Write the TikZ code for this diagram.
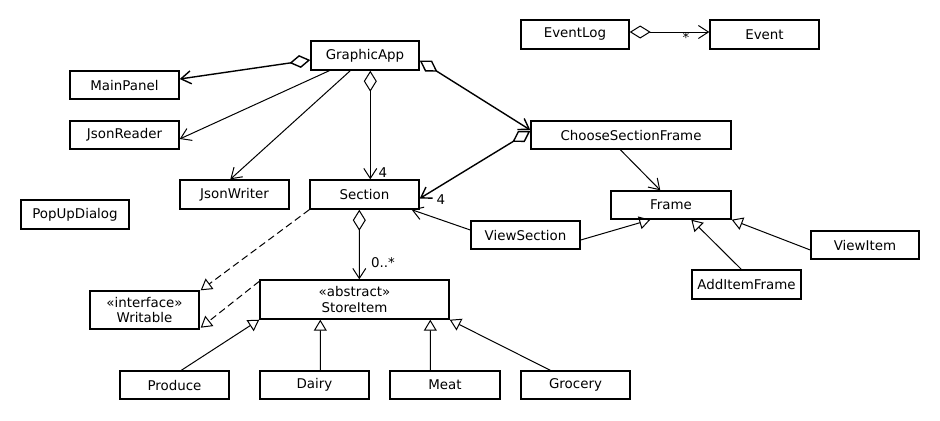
\documentclass[tikz,border=0pt]{standalone}
\usepackage{fontspec}
\newfontfamily\umlfont{DejaVu Sans}
\usetikzlibrary{arrows.meta,calc}
\tikzset{
  cls/.style={draw, line width=1.4bp, inner sep=0pt, minimum height=28bp,
    font=\umlfont\fontsize{13.4bp}{15.5bp}\selectfont, align=center},
  lbl/.style={font=\umlfont\fontsize{13.4bp}{15bp}\selectfont, inner sep=0pt},
  assoc/.style={line width=1bp, -{Straight Barb[length=10bp,width=13bp]}},
  aggr/.style={line width=1bp, {Diamond[open,length=21bp,width=13bp]}-{Straight Barb[length=10bp,width=13bp]}},
  thick/.style={line width=1.4bp},
  inherit/.style={line width=1bp, -{Triangle[open,length=11bp,width=13bp]}},
  realize/.style={inherit, dash pattern=on 7bp off 4bp},
}
\begin{document}
\begin{tikzpicture}[x=1bp,y=-1bp]
\fill[white] (0,0) rectangle (940,420);
\useasboundingbox (0,0) rectangle (940,420);

% classes
\node[cls, minimum width=108bp, minimum height=29bp] (ga) at (365,55.5) {GraphicApp};
\node[cls, minimum width=109bp] (mp) at (124.5,85) {MainPanel};
\node[cls, minimum width=109bp] (jr) at (124.5,135) {JsonReader};
\node[cls, minimum width=109bp, minimum height=29bp] (jw) at (234.5,194.5) {JsonWriter};
\node[cls, minimum width=109bp, minimum height=29bp] (sec) at (364.5,194.5) {Section};
\node[cls, minimum width=108bp, minimum height=29bp] (pud) at (75,214.5) {PopUpDialog};
\node[cls, minimum width=108bp, minimum height=29bp] (el) at (575,34.5) {EventLog};
\node[cls, minimum width=109bp, minimum height=29bp] (ev) at (764.5,34.5) {Event};
\node[cls, minimum width=200bp] (csf) at (631,135) {ChooseSectionFrame};
\node[cls, minimum width=120bp] (fr) at (671,205) {Frame};
\node[cls, minimum width=109bp] (vs) at (525.5,235) {ViewSection};
\node[cls, minimum width=108bp] (vi) at (865,245) {ViewItem};
\node[cls, minimum width=109bp, minimum height=29bp] (aif) at (746.5,284.5) {AddItemFrame};
\node[cls, minimum width=109bp, minimum height=38bp] (wr) at (144.5,310) {«interface»\\Writable};
\node[cls, minimum width=189bp, minimum height=39bp] (si) at (354.5,299.5) {«abstract»\\StoreItem};
\node[cls, minimum width=109bp] (pr) at (174.5,385) {Produce};
\node[cls, minimum width=109bp] (da) at (314.5,385) {Dairy};
\node[cls, minimum width=110bp] (me) at (445,385) {Meat};
\node[cls, minimum width=109bp] (gr) at (575.5,385) {Grocery};

% GraphicApp associations
\draw[aggr, thick] ($(ga.west)+(0,4.5)$) -- ($(mp.east)+(0,-6)$);
\draw[assoc] ($(ga.south west)+(19,0)$) -- ($(jr.east)+(0,4)$);
\draw[assoc] ($(ga.south west)+(40,0)$) -- ($(jw.north west)+(51,0)$);
\draw[aggr] ($(ga.south west)+(60,0)$) -- ($(sec.north west)+(61,0)$);
\node[lbl] (m1) at (383,173) {4};
\draw[aggr, thick] ($(ga.east)+(0,5)$) -- ($(csf.west)+(0,-5)$);

% ChooseSectionFrame
\draw[aggr, thick] ($(csf.west)+(0,-4)$) -- ($(sec.east)+(0,4)$);
\node[lbl] (m2) at (441,200) {4};
\draw[assoc] ($(csf.south west)+(90,0)$) -- ($(fr.north west)+(50,0)$);

% ViewSection
\draw[assoc] ($(vs.west)+(0,-5)$) -- ($(sec.south east)+(-8,0)$);

% Frame hierarchy
\draw[inherit] ($(vs.east)+(0,5)$) -- ($(fr.south west)+(40,0)$);
\draw[inherit] ($(aif.north west)+(50,0)$) -- ($(fr.south west)+(81,0)$);
\draw[inherit] ($(vi.west)+(0,5)$) -- (fr.south east);

% Writable realizations
\draw[realize] (sec.south west) -- ($(wr.north east)+(1,0)$);
\draw[realize] ($(si.north west)+(0,2)$) -- ($(wr.south east)+(1,-2)$);

% Section - StoreItem
\draw[aggr] ($(sec.south west)+(50,0)$) -- ($(si.north west)+(100,0)$);
\node[lbl] (m3) at (383,263) {0..*};

% StoreItem hierarchy
\draw[inherit] ($(pr.north west)+(62,0)$) -- (si.south west);
\draw[inherit] ($(da.north west)+(61,0)$) -- ($(si.south west)+(61,0)$);
\draw[inherit] ($(me.north west)+(41,0)$) -- ($(si.south west)+(171,0)$);
\draw[inherit] ($(gr.north west)+(30,0)$) -- (si.south east);

% EventLog - Event
\draw[aggr] ($(el.east)+(0,-2.5)$) -- ($(ev.west)+(0,-2.5)$);
\node[lbl] (m4) at (686,38) {*};
\end{tikzpicture}
\end{document}
